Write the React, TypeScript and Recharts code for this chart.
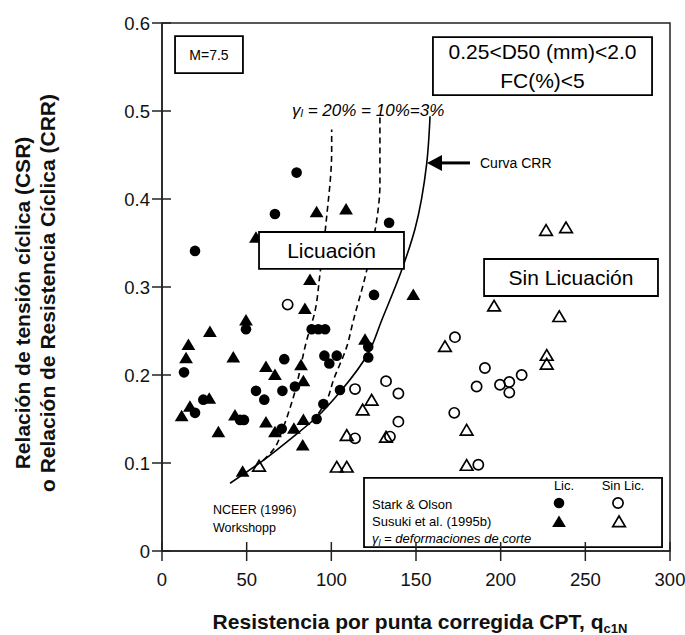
import React from 'react';
import { ComposedChart, Scatter, Line, XAxis, YAxis, ReferenceArea, ReferenceDot } from 'recharts';

const FONT = "'Liberation Sans', Arial, Helvetica, sans-serif";

const xTicks = [0, 50, 100, 150, 200, 250, 300];
const yTicks = [0, 0.1, 0.2, 0.3, 0.4, 0.5, 0.6];

// Stark & Olson - liquefaction (filled circles)
const starkLic: [number, number][] = [
  [79.5, 0.430], [66.7, 0.383], [19.5, 0.341], [134.1, 0.373], [125.2, 0.291], [49.6, 0.252],
  [88.4, 0.252], [92.3, 0.252], [96.3, 0.252], [95.9, 0.222], [98.8, 0.213], [103.2, 0.222],
  [121.8, 0.232], [121.8, 0.220], [13.0, 0.203], [72.2, 0.218], [78.5, 0.187], [55.5, 0.182],
  [60.4, 0.172], [71.1, 0.182], [105.1, 0.183], [24.4, 0.172], [19.5, 0.157], [46.1, 0.149],
  [48.4, 0.149], [70.7, 0.139], [91.3, 0.150], [95.3, 0.167],
];
// Susuki et al. - liquefaction (filled triangles)
const susukiLic: [number, number][] = [
  [91.3, 0.385], [108.7, 0.388], [55.5, 0.356], [87.4, 0.308], [84.4, 0.275], [49.6, 0.262],
  [28.3, 0.249], [15.6, 0.234], [14.2, 0.219], [42.1, 0.220], [61.4, 0.209], [66.7, 0.200],
  [82.1, 0.211], [83.5, 0.193], [27.9, 0.173], [16.5, 0.164], [11.6, 0.153], [43.1, 0.154],
  [33.3, 0.135], [61.4, 0.146], [66.7, 0.135], [77.9, 0.139], [83.5, 0.149], [83.1, 0.120],
  [47.6, 0.090], [119.9, 0.240], [148.4, 0.291],
];
// Stark & Olson - no liquefaction (open circles)
const starkNoLic: [number, number][] = [
  [74.2, 0.280], [114.0, 0.184], [132.3, 0.193], [139.6, 0.179], [139.6, 0.147], [114.0, 0.128],
  [134.6, 0.130], [173.0, 0.243], [190.7, 0.208], [212.4, 0.200], [185.8, 0.187], [199.6, 0.189],
  [205.1, 0.192], [205.1, 0.180], [172.6, 0.157], [186.8, 0.098],
];
// Susuki et al. - no liquefaction (open triangles)
const susukiNoLic: [number, number][] = [
  [57.3, 0.096], [103.2, 0.095], [109.1, 0.095], [123.8, 0.171], [118.5, 0.160], [109.1, 0.131],
  [132.3, 0.129], [167.1, 0.232], [179.9, 0.137], [179.9, 0.097], [226.8, 0.364], [238.6, 0.367],
  [196.1, 0.278], [234.6, 0.266], [227.2, 0.222], [227.2, 0.212],
];
// Curves (sorted by y)
const curveCRR: [number, number][] = [
  [40.2, 0.077], [59.8, 0.103], [77.6, 0.130], [91.3, 0.152], [106.1, 0.183], [121.9, 0.225],
  [129.7, 0.262], [141.5, 0.319], [149.4, 0.366], [156.3, 0.440], [158.3, 0.494],
];
const curve10: [number, number][] = [
  [92.3, 0.156], [97.2, 0.171], [101.2, 0.194], [109.1, 0.232], [113.0, 0.262], [119.9, 0.311],
  [125.8, 0.364], [128.7, 0.417], [128.7, 0.455], [128.7, 0.493],
];
const curve20: [number, number][] = [
  [59.8, 0.103], [65.7, 0.115], [71.7, 0.141], [77.6, 0.175], [85.4, 0.239], [90.4, 0.273],
  [93.3, 0.315], [97.2, 0.379], [100.2, 0.455], [100.2, 0.479],
];

const toObj = (a: [number, number][]) => a.map(([x, y]) => ({ x, y }));

const FilledCircle = ({ cx, cy }: any) => <circle cx={cx} cy={cy} r={5.3} fill="#000" />;
const OpenCircle = ({ cx, cy }: any) => (
  <circle cx={cx} cy={cy} r={5.1} fill="none" stroke="#000" strokeWidth={1.7} />
);
const FilledTri = ({ cx, cy }: any) => (
  <polygon points={`${cx},${cy - 6.5} ${cx - 6.9},${cy + 5} ${cx + 6.9},${cy + 5}`} fill="#000" />
);
const OpenTri = ({ cx, cy }: any) => (
  <polygon
    points={`${cx},${cy - 6} ${cx - 6.3},${cy + 4.6} ${cx + 6.3},${cy + 4.6}`}
    fill="none"
    stroke="#000"
    strokeWidth={1.7}
    strokeLinejoin="miter"
  />
);

const XTick = ({ x, y, payload }: any) => (
  <g>
    <line x1={x} x2={x} y1={y - 9} y2={y + 10} stroke="#222" strokeWidth={1.5} />
    <text x={x} y={y + 35} textAnchor="middle" fontSize={18.5} fontFamily={FONT} fill="#111">
      {payload.value}
    </text>
  </g>
);
const YTick = ({ x, y, payload }: any) => (
  <g>
    <line x1={x - 10} x2={x + 9} y1={y} y2={y} stroke="#222" strokeWidth={1.5} />
    <text x={x - 12} y={y + 6.5} textAnchor="end" fontSize={18.5} fontFamily={FONT} fill="#111">
      {payload.value === 0 ? '0' : payload.value.toFixed(1)}
    </text>
  </g>
);

const boxLabel = (lines: string[], size: number, lineH: number) => (props: any) => {
  const { x, y, width, height } = props.viewBox;
  const cx = x + width / 2;
  const cy = y + height / 2;
  const n = lines.length;
  return (
    <g>
      {lines.map((t, i) => (
        <text
          key={i}
          x={cx}
          y={cy + (i - (n - 1) / 2) * lineH}
          textAnchor="middle"
          dominantBaseline="central"
          fontSize={size}
          fontFamily={FONT}
          fill="#000"
        >
          {t}
        </text>
      ))}
    </g>
  );
};

const legendLabel = (props: any) => {
  const { x, y } = props.viewBox;
  const t = (tx: number, ty: number, s: string, anchor = 'start') => (
    <text x={x + tx} y={y + ty} textAnchor={anchor as any} fontSize={13} fontFamily={FONT} fill="#000">{s}</text>
  );
  return (
    <g>
      {t(200, 12, 'Lic.', 'middle')}
      {t(259, 12, 'Sin Lic.', 'middle')}
      {t(8, 31, 'Stark & Olson')}
      {t(8, 48, 'Susuki et al. (1995b)')}
      <text x={x + 8} y={y + 65} fontSize={13} fontFamily={FONT} fontStyle="italic" fill="#000">
        <tspan>γ</tspan>
        <tspan fontSize={9} dy={3}>l</tspan>
        <tspan dy={-3}>{'  = deformaciones de corte'}</tspan>
      </text>
      <FilledCircle cx={x + 195} cy={y + 25} />
      <OpenCircle cx={x + 254} cy={y + 25} />
      <FilledTri cx={x + 195} cy={y + 44} />
      <OpenTri cx={x + 255} cy={y + 44} />
    </g>
  );
};

const yTitle = () => (
  <g fontFamily={FONT} fontWeight="bold" fontSize={21} fill="#111">
    <text x={22} y={303} transform="rotate(-90 22 303)" textAnchor="middle" dominantBaseline="central">
      Relación de tensión cíclica (CSR)
    </text>
    <text x={47} y={293} transform="rotate(-90 47 293)" textAnchor="middle" dominantBaseline="central">
      o Relación  de Resistencia Cíclica (CRR)
    </text>
  </g>
);

const xTitle = () => (
  <text x={420} y={629} textAnchor="middle" fontFamily={FONT} fontWeight="bold" fontSize={21} fill="#111">
    <tspan>Resistencia por punta corregida CPT, q</tspan>
    <tspan fontSize={13} dy={4}>c1N</tspan>
  </text>
);

const arrowShape = ({ cx, cy }: any) => (
  <g>
    <polygon points={`${cx},${cy} ${cx + 15},${cy - 8} ${cx + 15},${cy + 8}`} fill="#000" />
    <line x1={cx + 12} y1={cy} x2={cx + 43} y2={cy} stroke="#000" strokeWidth={3} />
    <text x={cx + 53} y={cy} dominantBaseline="central" fontSize={14} fontFamily={FONT} fill="#000">
      Curva CRR
    </text>
  </g>
);

const gammaShape = ({ cx, cy }: any) => (
  <text x={cx} y={cy} dominantBaseline="central" fontSize={17} fontFamily={FONT} fontStyle="italic" fill="#000">
    <tspan>γ</tspan>
    <tspan fontSize={11} dy={3}>l</tspan>
    <tspan dy={-3}>{'  = 20% = 10%=3%'}</tspan>
  </text>
);

const nceerShape = ({ cx, cy }: any) => (
  <g fontSize={12.5} fontFamily={FONT} fill="#000">
    <text x={cx} y={cy} dominantBaseline="central">NCEER (1996)</text>
    <text x={cx} y={cy + 18} dominantBaseline="central">Workshopp</text>
  </g>
);

export default function App() {
  return (
    <div style={{ position: 'absolute', left: 0, top: 0, width: 685, height: 635, background: '#fff' }}>
      <ComposedChart width={685} height={635} margin={{ top: 23, right: 15, left: 0, bottom: 0 }}>
        <XAxis
          dataKey="x"
          type="number"
          domain={[0, 300]}
          ticks={xTicks}
          interval={0}
          allowDataOverflow
          height={84}
          tickSize={0}
          tickMargin={0}
          tickLine={false}
          axisLine={{ stroke: '#222', strokeWidth: 1.5 }}
          tick={(p: any) => <XTick {...p} />}
          label={xTitle}
        />
        <YAxis
          dataKey="y"
          type="number"
          domain={[0, 0.6]}
          ticks={yTicks}
          interval={0}
          allowDataOverflow
          width={162}
          tickSize={0}
          tickMargin={0}
          tickLine={false}
          axisLine={{ stroke: '#222', strokeWidth: 1.5 }}
          tick={(p: any) => <YTick {...p} />}
          label={yTitle}
        />
        <ReferenceArea x1={0} x2={300} y1={0} y2={0.6} fill="none" stroke="#222" strokeWidth={1.5} />
        <Line data={toObj(curveCRR)} dataKey="y" type="monotoneY" stroke="#000" strokeWidth={1.6} dot={false} isAnimationActive={false} />
        <Line data={toObj(curve10)} dataKey="y" type="monotoneY" stroke="#000" strokeWidth={1.6} strokeDasharray="6 4" dot={false} isAnimationActive={false} />
        <Line data={toObj(curve20)} dataKey="y" type="monotoneY" stroke="#000" strokeWidth={1.6} strokeDasharray="6 4" dot={false} isAnimationActive={false} />
        <Scatter data={toObj(starkLic)} shape={(p: any) => <FilledCircle {...p} />} isAnimationActive={false} />
        <Scatter data={toObj(susukiLic)} shape={(p: any) => <FilledTri {...p} />} isAnimationActive={false} />
        <Scatter data={toObj(starkNoLic)} shape={(p: any) => <OpenCircle {...p} />} isAnimationActive={false} />
        <Scatter data={toObj(susukiNoLic)} shape={(p: any) => <OpenTri {...p} />} isAnimationActive={false} />
        <ReferenceArea x1={7.7} x2={47.8} y1={0.543} y2={0.585} fill="#fff" fillOpacity={1} stroke="#000" strokeWidth={1.8}
          zIndex={1500} label={boxLabel(['M=7.5'], 14, 0)} />
        <ReferenceArea x1={160} x2={289.4} y1={0.518} y2={0.584} fill="#fff" fillOpacity={1} stroke="#000" strokeWidth={1.8}
          zIndex={1500} label={boxLabel(['0.25<D50 (mm)<2.0', 'FC(%)<5'], 21, 29)} />
        <ReferenceArea x1={57.3} x2={142.9} y1={0.3205} y2={0.3625} fill="#fff" fillOpacity={1} stroke="#000" strokeWidth={1.8}
          zIndex={1500} label={boxLabel(['Licuación'], 21, 0)} />
        <ReferenceArea x1={190.2} x2={292.9} y1={0.2898} y2={0.3318} fill="#fff" fillOpacity={1} stroke="#000" strokeWidth={1.8}
          zIndex={1500} label={boxLabel(['Sin Licuación'], 21, 0)} />
        <ReferenceArea x1={119.3} x2={295.3} y1={0.0045} y2={0.083} fill="#fff" fillOpacity={1} stroke="#000" strokeWidth={1.8}
          zIndex={1500} label={legendLabel} />
        <ReferenceDot x={156.5} y={0.441} r={0} shape={arrowShape} zIndex={1600} />
        <ReferenceDot x={76.8} y={0.501} r={0} shape={gammaShape} zIndex={1600} />
        <ReferenceDot x={30.1} y={0.0466} r={0} shape={nceerShape} zIndex={1600} />
      </ComposedChart>
    </div>
  );
}
